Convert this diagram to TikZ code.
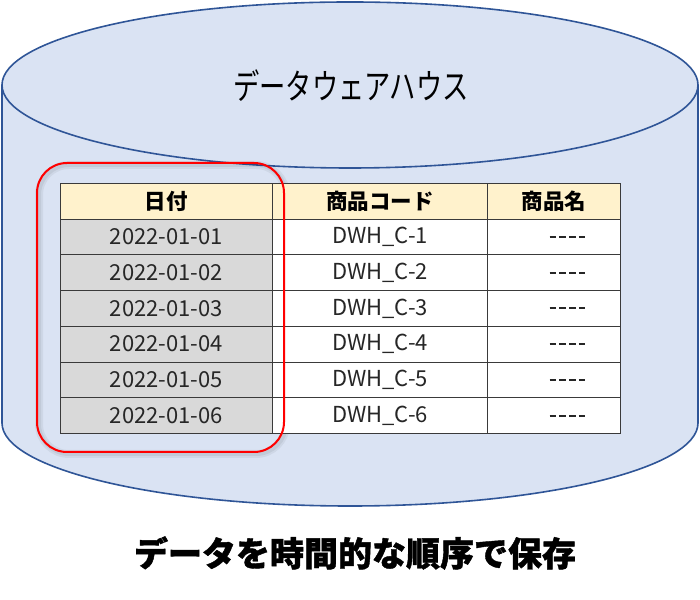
\documentclass[tikz,border=0pt]{standalone}
\usepackage{fontspec}
\setmainfont{Noto Sans CJK JP}
\usepackage{graphicx}
\definecolor{cylfill}{HTML}{DAE3F3}
\definecolor{cylline}{HTML}{2F5597}
\definecolor{hdrfill}{HTML}{FFF2CC}
\definecolor{datefill}{HTML}{D9D9D9}
\definecolor{gridline}{HTML}{3A3A3A}
\definecolor{celltext}{HTML}{262626}
\newcommand{\onedash}{\rule{6.5pt}{2pt}}
\newcommand{\dashcell}{\hspace{27pt}\onedash\hspace{3.3pt}\onedash\hspace{3.3pt}\onedash\hspace{3.3pt}\onedash}
\tikzset{
  cell/.style={draw=gridline, line width=0.9pt, minimum height=35.71pt, inner sep=0pt,
    anchor=north west, text=celltext, font=\fontsize{22}{26}\selectfont},
  hdrcell/.style={cell, fill=hdrfill, text=black, font=\fontsize{21.5}{26}\selectfont\bfseries},
  datecell/.style={cell, fill=datefill},
  plaincell/.style={cell, fill=white},
  hlbox/.style={draw=red, line width=2pt, rounded corners=30pt, minimum width=247pt,
    minimum height=289pt, inner sep=0pt},
  hlshadow/.style={draw=black, rounded corners=30pt, minimum width=247pt,
    minimum height=289pt, inner sep=0pt},
}
\begin{document}
\begin{tikzpicture}[x=1pt,y=1pt]
\useasboundingbox (0,0) rectangle (700,599);
\fill[white] (0,0) rectangle (700,599);
% cylinder
\filldraw[fill=cylfill, draw=cylline, line width=1.6pt]
  (2,514) -- (2,176) arc[start angle=180, end angle=360, x radius=348, y radius=83]
  -- (698,514) arc[start angle=0, end angle=180, x radius=348, y radius=83] -- cycle;
\draw[cylline, line width=1.6pt] (2,514) arc[start angle=180, end angle=360, x radius=348, y radius=83];
\node (title) at (351,513) {\fontsize{35}{40}\selectfont\scalebox{0.75}[1]{データウェアハウス}};
% highlight shadow
\node[hlshadow, opacity=0.05, line width=8pt] (sh1) at (162.5,289.5) {};
\node[hlshadow, opacity=0.06, line width=4pt] (sh2) at (162.5,289.5) {};
% table header
\node[hdrcell, minimum width=212pt] (h1) at (60,416) {日付};
\node[hdrcell, minimum width=215pt] (h2) at (272,416) {商品コード};
\node[hdrcell, minimum width=133pt] (h3) at (487,416) {商品名};
\foreach \i in {1,...,6}{
  \node[datecell, minimum width=212pt] (d\i) at (60,{416-35.71*\i}) {2022-01-0\i};
  \node[plaincell, minimum width=215pt] (c\i) at (272,{416-35.71*\i}) {DWH\_C-\i};
  \node[plaincell, minimum width=133pt] (n\i) at (487,{416-35.71*\i}) {\dashcell};
}
% highlight
\node[hlbox] (hl) at (160.5,291.5) {};
% caption
\node (cap) at (355,46) {\fontsize{34}{40}\selectfont\bfseries\addfontfeature{FakeBold=1.2}データを時間的な順序で保存};
\end{tikzpicture}
\end{document}
